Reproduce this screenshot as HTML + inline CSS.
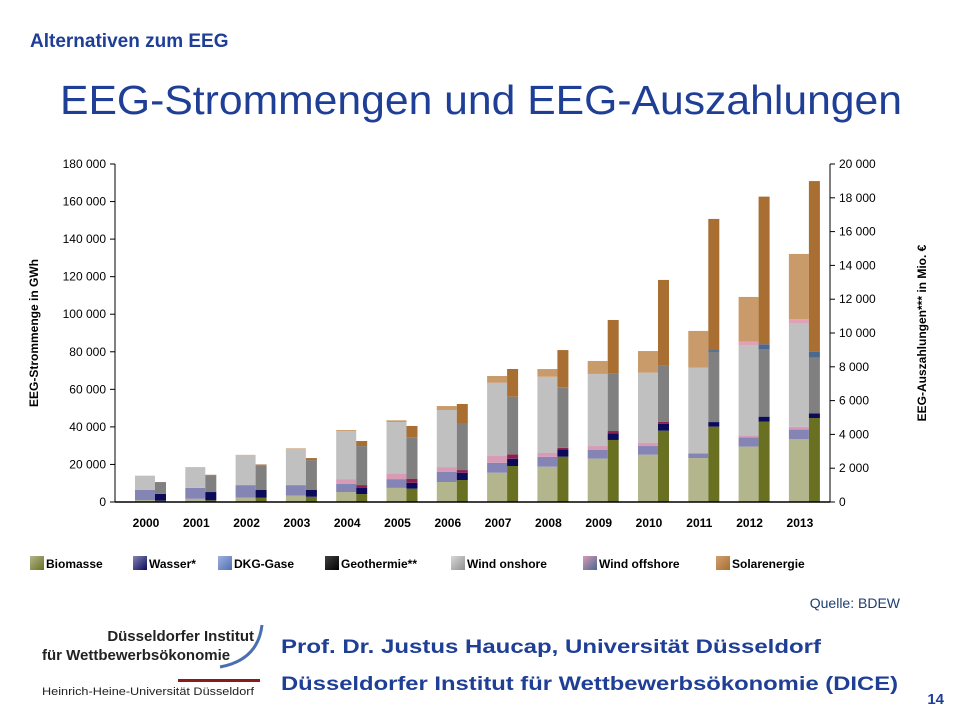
<!DOCTYPE html>
<html><head><meta charset="utf-8"><style>
body{margin:0;background:#fff;}
svg{display:block;font-family:"Liberation Sans",Arial,sans-serif;}
</style></head><body>
<svg id="s" width="960" height="720" viewBox="0 0 960 720">
<defs>
<linearGradient id="gBio" x1="0" y1="0" x2="1" y2="1"><stop offset="0" stop-color="#b3b68c"/><stop offset="1" stop-color="#6a7022"/></linearGradient>
<linearGradient id="gWas" x1="0" y1="0" x2="1" y2="1"><stop offset="0" stop-color="#8585b5"/><stop offset="1" stop-color="#0b0b5a"/></linearGradient>
<linearGradient id="gDkg" x1="0" y1="0" x2="1" y2="1"><stop offset="0" stop-color="#a0b0e0"/><stop offset="1" stop-color="#5070b0"/></linearGradient>
<linearGradient id="gGeo" x1="0" y1="0" x2="1" y2="1"><stop offset="0" stop-color="#404040"/><stop offset="1" stop-color="#000"/></linearGradient>
<linearGradient id="gOn" x1="0" y1="0" x2="1" y2="1"><stop offset="0" stop-color="#d8d8d8"/><stop offset="1" stop-color="#909090"/></linearGradient>
<linearGradient id="gOff" x1="0" y1="0" x2="1" y2="1"><stop offset="0" stop-color="#d79bb5"/><stop offset="1" stop-color="#4a6890"/></linearGradient>
<linearGradient id="gSol" x1="0" y1="0" x2="1" y2="1"><stop offset="0" stop-color="#d0a070"/><stop offset="1" stop-color="#a86e32"/></linearGradient>
</defs>
<text x="30" y="47" font-size="19" font-weight="bold" fill="#1f3e96">Alternativen zum EEG</text>
<text x="60" y="114" font-size="41" fill="#1f3e96" textLength="842" lengthAdjust="spacingAndGlyphs">EEG-Strommengen und EEG-Auszahlungen</text>
<g id="chart"></g>
<text transform="translate(38,333) rotate(-90)" text-anchor="middle" font-size="12" font-weight="bold">EEG-Strommenge in GWh</text>
<text transform="translate(926,333) rotate(-90)" text-anchor="middle" font-size="12" font-weight="bold">EEG-Auszahlungen*** in Mio. €</text>
<g id="legend"></g>
<text x="900" y="608" text-anchor="end" font-size="14" fill="#1f3e70">Quelle: BDEW</text>
<g>
<text x="254" y="641" text-anchor="end" font-size="15" font-weight="bold" fill="#222">Düsseldorfer Institut</text>
<text x="42" y="660" font-size="15" font-weight="bold" fill="#222">für Wettbewerbsökonomie</text>
<path d="M262 625 Q258 660 220 667" stroke="#4a6fb0" stroke-width="3" fill="none"/>
<rect x="178" y="679" width="82" height="3" fill="#8b1a1a"/>
<text x="42" y="695" font-size="11" fill="#222" textLength="212" lengthAdjust="spacingAndGlyphs">Heinrich-Heine-Universität Düsseldorf</text>
</g>
<text x="281" y="653" font-size="19" font-weight="bold" fill="#1f3e96" textLength="540" lengthAdjust="spacingAndGlyphs">Prof. Dr. Justus Haucap, Universität Düsseldorf</text>
<text x="281" y="690" font-size="19" font-weight="bold" fill="#1f3e96" textLength="617" lengthAdjust="spacingAndGlyphs">Düsseldorfer Institut für Wettbewerbsökonomie (DICE)</text>
<text x="944" y="704" text-anchor="end" font-size="15" font-weight="bold" fill="#1f3e96">14</text>
</svg>
<script>
const years=["2000","2001","2002","2003","2004","2005","2006","2007","2008","2009","2010","2011","2012","2013"];
const seriesNames=["Biomasse","Wasser*","DKG-Gase","Geothermie**","Wind onshore","Wind offshore","Solarenergie"];
const leftTicks=[0,20000,40000,60000,80000,100000,120000,140000,160000,180000];
const rightTicks=[0,2000,4000,6000,8000,10000,12000,14000,16000,18000,20000];
// GWh (left axis), per series across years
const gwhBio=[1000,1700,2300,3400,5300,7500,10650,15600,18800,23100,25200,23400,29500,33400];
const gwhWas=[5400,5800,6700,5600,4300,4700,5350,5300,5300,4600,4600,2500,4900,5300];
const gwhDkg=[0,0,0,0,2600,3100,2600,3600,2200,2100,1800,0,1100,1400];
const gwhGeo=[0,0,0,0,0,0,0,0,0,0,0,0,0,0];
const gwhOn=[7500,11000,15900,19300,25600,27300,30400,39000,40400,38400,37300,45600,48100,55000];
const gwhOff=[0,0,0,0,0,0,0,0,0,0,0,0,1800,2300];
const gwhSol=[100,100,200,300,500,900,2100,3600,4100,6900,11500,19600,23800,34700];
// Payments Mio. EUR (right axis)
const eurBio=[80,100,250,310,470,790,1300,2130,2680,3670,4220,4460,4750,4970];
const eurWas=[400,490,460,400,360,350,430,430,440,390,400,270,300,280];
const eurDkg=[0,0,0,0,170,240,160,260,90,140,130,0,0,0];
const eurGeo=[0,0,0,0,0,0,0,0,0,0,0,0,0,0];
const eurOn=[700,1000,1460,1770,2310,2420,2730,3410,3580,3410,3320,4150,3980,3290];
const eurOff=[0,0,0,0,0,0,0,0,0,0,0,110,300,340];
const eurSol=[0,20,50,120,300,700,1180,1640,2200,3160,5070,7760,8740,10110];

const NS="http://www.w3.org/2000/svg";
const X0=115,X1=830,Y0=502,Y1=164;
const yL=v=>Y0-(v/180000)*(Y0-Y1);
const yR=v=>Y0-(v/20000)*(Y0-Y1);
const xC=i=>146+i*50.3;
const lightCols=["#b3b68c","#8585b5","#d79bb5","#606060","#c0c0c0","#e0a0b8","#c99a6a"];
const darkCols=["#6a7022","#0b0b5a","#8a2050","#000000","#808080","#4a6890","#a86e32"];
const gw=[gwhBio,gwhWas,gwhDkg,gwhGeo,gwhOn,gwhOff,gwhSol];
const eu=[eurBio,eurWas,eurDkg,eurGeo,eurOn,eurOff,eurSol];
const chart=document.getElementById('chart');
function mk(tag,attrs,parent){const e=document.createElementNS(NS,tag);for(const k in attrs)e.setAttribute(k,attrs[k]);(parent||chart).appendChild(e);return e;}
// axes
let a=mk('line',{x1:X0,y1:Y1,x2:X0,y2:Y0,stroke:'#000'});


a=mk('line',{x1:X1,y1:Y1,x2:X1,y2:Y0,stroke:'#000'});


leftTicks.forEach(v=>{
  mk('line',{x1:X0-5,y1:yL(v),x2:X0,y2:yL(v),stroke:'#000'});
  const t=mk('text',{x:X0-9,y:yL(v)+4,'text-anchor':'end','font-size':12});
  t.textContent=v===0?'0':(v/1000)+' 000';
  
  
});
rightTicks.forEach(v=>{
  mk('line',{x1:X1,y1:yR(v),x2:X1+5,y2:yR(v),stroke:'#000'});
  const t=mk('text',{x:X1+9,y:yR(v)+4,'font-size':12});
  t.textContent=v===0?'0':(v/1000)+' 000';
  
  
});
years.forEach((yr,i)=>{
  const c=xC(i);
  let b0=0;
  gw.forEach((s,k)=>{const v=s[i];if(v>0){const r=mk('rect',{x:c-11,y:yL(b0+v),width:20,height:yL(b0)-yL(b0+v),fill:lightCols[k]});
    
    }b0+=v;});
  let e0=0;
  eu.forEach((s,k)=>{const v=s[i];if(v>0){const r=mk('rect',{x:c+9,y:yR(e0+v),width:11,height:yR(e0)-yR(e0+v),fill:darkCols[k]});
    
    }e0+=v;});
  const t=mk('text',{x:c,y:527,'text-anchor':'middle','font-size':12,'font-weight':'bold'});
  t.textContent=yr;
  
  
});
mk('line',{x1:X0,y1:Y0,x2:X1,y2:Y0,stroke:'#000','stroke-width':1.5});
// legend
const lg=document.getElementById('legend');
const grads=["gBio","gWas","gDkg","gGeo","gOn","gOff","gSol"];
const lx=[30,133,218,325,451,583,716];
seriesNames.forEach((n,k)=>{
  const r=mk('rect',{x:lx[k],y:556,width:14,height:14,fill:'url(#'+grads[k]+')'},lg);
  
  
  const t=mk('text',{x:lx[k]+16,y:568,'font-size':12,'font-weight':'bold'},lg);
  t.textContent=n;
  
  
});
</script>
</body></html>
